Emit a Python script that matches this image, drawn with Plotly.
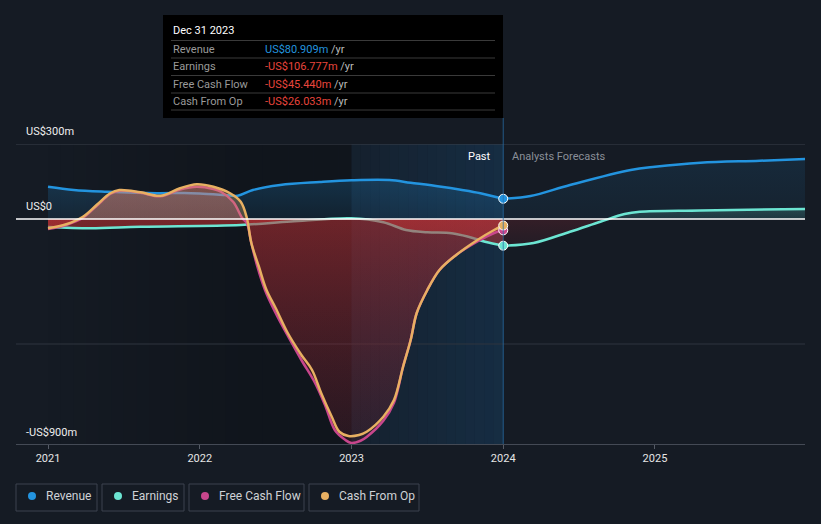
import numpy as np
import plotly.graph_objects as go

# ---------------- data (values in US$ millions, x in decimal years) ----------------
rev_past_x = [2021.0, 2021.17, 2021.39, 2021.72, 2021.9, 2022.0, 2022.17, 2022.25, 2022.35,
              2022.53, 2022.79, 2023.0, 2023.25, 2023.39, 2023.58, 2023.72, 2023.85, 2024.0]
rev_past_y = [129, 116, 109, 103, 104, 102, 96, 93, 116,
              136, 148, 155, 156, 145, 130, 117, 103, 81]
rev_fc_x = [2024.0, 2024.18, 2024.44, 2024.84, 2025.0, 2025.3, 2025.69, 2025.99]
rev_fc_y = [81, 92, 136, 196, 209, 225, 233, 240]

earn_past_x = [2021.0, 2021.28, 2021.61, 2022.27, 2022.6, 2023.0, 2023.21, 2023.36, 2023.5,
               2023.66, 2023.77, 2023.88, 2024.0]
earn_past_y = [-32, -37, -31, -24, -10, 3, -13, -44, -53, -57, -71, -91, -107]
earn_fc_x = [2024.0, 2024.2, 2024.44, 2024.64, 2024.8, 2024.9, 2025.3, 2025.99]
earn_fc_y = [-107, -96, -51, -11, 20, 29, 34, 40]

fcf_x = [2021.0, 2021.12, 2021.23, 2021.32, 2021.41, 2021.47, 2021.61, 2021.74, 2021.87, 2021.98,
         2022.09, 2022.14, 2022.22, 2022.28, 2022.31, 2022.34, 2022.38, 2022.43, 2022.5, 2022.58,
         2022.67, 2022.76, 2022.83, 2022.89, 2022.96, 2023.0, 2023.06, 2023.1, 2023.21, 2023.28,
         2023.34, 2023.39, 2023.43, 2023.5, 2023.58, 2023.69, 2023.83, 2023.94, 2024.0]
fcf_y = [-40, -24, 5, 52, 100, 113, 105, 91, 118, 129,
         120, 109, 69, 4, -16, -96, -191, -284, -376, -467,
         -564, -656, -751, -844, -884, -896, -887, -872, -807, -735,
         -591, -484, -376, -284, -204, -144, -90, -56, -45]

cfo_x = [2021.0, 2021.12, 2021.23, 2021.32, 2021.41, 2021.47, 2021.61, 2021.74, 2021.87, 2021.98,
         2022.09, 2022.2, 2022.27, 2022.31, 2022.34, 2022.39, 2022.44, 2022.5, 2022.58, 2022.67,
         2022.74, 2022.8, 2022.87, 2022.92, 2022.98, 2023.05, 2023.1, 2023.21, 2023.28, 2023.34,
         2023.39, 2023.43, 2023.5, 2023.58, 2023.69, 2023.83, 2023.94, 2024.0]
cfo_y = [-37, -21, 9, 56, 103, 116, 107, 93, 123, 139,
         129, 103, 69, 5, -96, -191, -284, -356, -456, -544,
         -604, -696, -791, -851, -868, -864, -851, -791, -724, -591,
         -484, -376, -284, -204, -144, -84, -44, -26]

year_ticks = [2021, 2022, 2023, 2024, 2025]
year_labels = ["2021", "2022", "2023", "2024", "2025"]

series_names = ["Revenue", "Earnings", "Free Cash Flow", "Cash From Op"]
tooltip_date = "Dec 31 2023"
tooltip_values = ["US$80.909m", "-US$106.777m", "-US$45.440m", "-US$26.033m"]
last_values = [80.909, -106.777, -45.440, -26.033]
y_labels = [(300, "US$300m"), (0, "US$0"), (-900, "-US$900m")]

# ---------------- styling ----------------
W, H = 821, 524
L, R, T, B = 16, 16, 144, 80
BG = "#151b24"
C_REV = "#2394df"
C_EARN = "#6ce5d2"
C_FCF = "#c8468c"
C_CFO = "#e8b062"
C_NEG = "#e8453c"
FONT = "Roboto, 'Open Sans', sans-serif"

PW = W - L - R
PH = H - T - B


def px(x):
    return (x - L) / PW


def py(y):
    return (H - B - y) / PH


fig = go.Figure()

SM = 1.0


def line(x, y, color, width=2.5):
    fig.add_trace(go.Scatter(x=x, y=y, mode="lines", line=dict(color=color, width=width, shape="spline", smoothing=SM),
                             hoverinfo="skip", showlegend=False))


def fill(x, y, top, bottom):
    fig.add_trace(go.Scatter(x=x, y=y, mode="lines", line=dict(width=0, shape="spline", smoothing=SM),
                             fill="tozeroy",
                             fillgradient=dict(type="vertical", colorscale=[[0, bottom], [1, top]]),
                             hoverinfo="skip", showlegend=False))


def pos(v):
    return list(np.maximum(np.array(v, dtype=float), 0))


def neg(v):
    return list(np.minimum(np.array(v, dtype=float), 0))


# Revenue
fill(rev_past_x, rev_past_y, "rgba(35,148,223,0.22)", "rgba(35,148,223,0.10)")
fill(rev_fc_x, rev_fc_y, "rgba(35,148,223,0.12)", "rgba(35,148,223,0.06)")
line(rev_past_x, rev_past_y, C_REV)
line(rev_fc_x, rev_fc_y, C_REV)

# Earnings
fill(earn_past_x, neg(earn_past_y), "rgba(200,50,50,0.55)", "rgba(200,50,50,0.45)")
fill(earn_fc_x, neg(earn_fc_y), "rgba(160,40,50,0.22)", "rgba(160,40,50,0.10)")
fill(earn_fc_x, pos(earn_fc_y), "rgba(108,229,206,0.18)", "rgba(108,229,206,0.10)")
line(earn_past_x, earn_past_y, C_EARN)
line(earn_fc_x, earn_fc_y, C_EARN)

# Free cash flow
fill(fcf_x, pos(fcf_y), "rgba(200,70,140,0.32)", "rgba(200,70,140,0.28)")
fill(fcf_x, neg(fcf_y), "rgba(185,45,50,0.50)", "rgba(110,30,45,0.22)")
line(fcf_x, fcf_y, C_FCF)

# Cash from operations
fill(cfo_x, pos(cfo_y), "rgba(232,176,98,0.32)", "rgba(232,176,98,0.28)")
fill(cfo_x, neg(cfo_y), "rgba(190,60,60,0.10)", "rgba(120,40,60,0.04)")
line(cfo_x, cfo_y, C_CFO)

# end markers
colors = [C_REV, C_EARN, C_FCF, C_CFO]
for v, c in zip(last_values, colors):
    fig.add_trace(go.Scatter(x=[2024.0], y=[v], mode="markers",
                             marker=dict(size=9, color=c, line=dict(color="white", width=1)),
                             hoverinfo="skip", showlegend=False))

shapes = []
# darker band before the past-year highlight (smooth gradient via thin strips)
N = 24
for i in range(N):
    t = (i + 0.5) / N
    a = 0.20 * min(1.0, t * 1.6)
    shapes.append(dict(type="rect", xref="x", yref="paper", x0=2021.0 + 2 * i / N, x1=2021.0 + 2 * (i + 1) / N,
                       y0=0, y1=1, fillcolor=f"rgba(0,0,0,{a:.3f})", line_width=0, layer="below"))
# past-year highlight
M = 16
for i in range(M):
    t = (i + 0.5) / M
    a = 0.10 + 0.22 * t
    shapes.append(dict(type="rect", xref="x", yref="paper", x0=2023.0 + i / M, x1=2023.0 + (i + 1) / M,
                       y0=0, y1=1, fillcolor=f"rgba(25,85,135,{a:.3f})", line_width=0, layer="below"))
# grid lines
shapes.append(dict(type="line", xref="paper", yref="y", x0=0, x1=1, y0=300, y1=300,
                   line=dict(color="#3a404a", width=1)))
shapes.append(dict(type="line", xref="paper", yref="y", x0=0, x1=1, y0=-500, y1=-500,
                   line=dict(color="#2f353f", width=1), layer="below"))
shapes.append(dict(type="line", xref="paper", yref="y", x0=0, x1=1, y0=0, y1=0,
                   line=dict(color="#ffffff", width=1.5)))
# hover line at last actual point
shapes.append(dict(type="line", xref="x", yref="paper", x0=2024.0, x1=2024.0, y0=0, y1=py(118),
                   line=dict(color="rgba(40,110,170,0.75)", width=1)))

annotations = []
label_px = {300: 131, 0: 206, -900: 432}
for v, t in y_labels:
    annotations.append(dict(xref="paper", yref="paper", x=px(24), y=py(label_px[v]), text=t, showarrow=False,
                            xanchor="left", yanchor="middle", font=dict(color="#eeeeee", size=11, family=FONT)))
annotations.append(dict(xref="paper", yref="paper", x=px(493), y=py(156), text="Past", showarrow=False,
                        xanchor="right", yanchor="middle", font=dict(color="#ffffff", size=11, family=FONT)))
annotations.append(dict(xref="paper", yref="paper", x=px(510), y=py(156), text="Analysts Forecasts",
                        showarrow=False, xanchor="left", yanchor="middle",
                        font=dict(color="#8a8f98", size=11, family=FONT)))

# tooltip
shapes.append(dict(type="rect", xref="paper", yref="paper", x0=px(163), x1=px(503), y0=py(118), y1=py(15),
                   fillcolor="#000000", line_width=0))
for yy in [40.5, 58, 75.5, 93, 110]:
    shapes.append(dict(type="line", xref="paper", yref="paper", x0=px(171), x1=px(495), y0=py(yy), y1=py(yy),
                       line=dict(color="#3a3a3a", width=1)))
annotations.append(dict(xref="paper", yref="paper", x=px(171), y=py(31), text=tooltip_date, showarrow=False,
                        xanchor="left", yanchor="middle", font=dict(color="#ffffff", size=11, family=FONT)))
row_y = [49, 66, 84, 101]
val_colors = [C_REV, C_NEG, C_NEG, C_NEG]
for name, val, vc, yy in zip(series_names, tooltip_values, val_colors, row_y):
    annotations.append(dict(xref="paper", yref="paper", x=px(171), y=py(yy), text=name, showarrow=False,
                            xanchor="left", yanchor="middle", font=dict(color="#9a9a9a", size=11, family=FONT)))
    annotations.append(dict(xref="paper", yref="paper", x=px(263), y=py(yy),
                            text=f"<span style='color:{vc}'>{val}</span> /yr", showarrow=False,
                            xanchor="left", yanchor="middle", font=dict(color="#bbbbbb", size=11, family=FONT)))

# legend
boxes = [(16, 97), (102, 184), (189, 304), (309, 419)]
for (x0, x1), name, c in zip(boxes, series_names, colors):
    shapes.append(dict(type="rect", xref="paper", yref="paper", x0=px(x0), x1=px(x1), y0=py(511), y1=py(484),
                       line=dict(color="#3d434e", width=1), fillcolor="rgba(0,0,0,0)"))
    shapes.append(dict(type="circle", xref="paper", yref="paper", x0=px(x0 + 12), x1=px(x0 + 20),
                       y0=py(500), y1=py(492), fillcolor=c, line_width=0))
    annotations.append(dict(xref="paper", yref="paper", x=px(x0 + 28), y=py(496), text=name, showarrow=False,
                            xanchor="left", yanchor="middle", font=dict(color="#cfd2d6", size=12, family=FONT)))

fig.update_layout(
    width=W, height=H,
    margin=dict(l=L, r=R, t=T, b=B),
    paper_bgcolor=BG, plot_bgcolor=BG,
    showlegend=False,
    shapes=shapes, annotations=annotations,
    font=dict(family=FONT),
    xaxis=dict(range=[2021 - 32 / 151.7, 2025 + 150 / 151.7], tickvals=year_ticks, ticktext=year_labels,
               showgrid=False, zeroline=False, ticks="outside", ticklen=4, tickcolor="#555b66",
               showline=True, linecolor="#444a55", linewidth=1,
               tickfont=dict(color="#e6e6e6", size=11, family=FONT), fixedrange=True),
    yaxis=dict(range=[-900, 300], showgrid=False, zeroline=False, showticklabels=False, fixedrange=True),
    hovermode=False,
)

fig.write_html("out.html", config={"displayModeBar": False},
               post_script="document.body.style.margin='0';document.body.style.background='" + BG + "';")
